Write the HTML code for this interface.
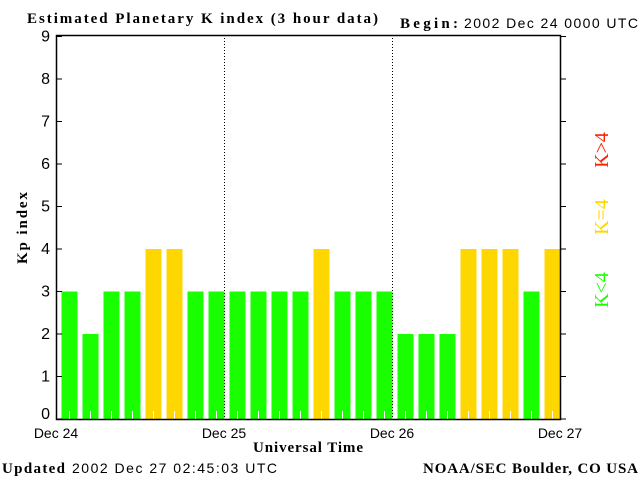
<!DOCTYPE html>
<html><head><meta charset="utf-8"><style>
body{margin:0;background:#fff;}
svg{display:block;}
.t{font-family:"Liberation Serif",serif;font-weight:bold;font-size:15px;}
.s{font-family:"Liberation Sans",sans-serif;font-size:14px;}
</style></head><body>
<svg id="c" width="640" height="480" xmlns="http://www.w3.org/2000/svg">
<text class="t" x="27" y="23" textLength="351" lengthAdjust="spacing">Estimated Planetary K index (3 hour data)</text>
<text class="t" x="400" y="28" textLength="58" lengthAdjust="spacing">Begin:</text>
<text class="s" x="464" y="28" textLength="174" lengthAdjust="spacing">2002 Dec 24 0000 UTC</text>
<text class="t" transform="translate(27,228) rotate(-90)" text-anchor="middle" textLength="72" lengthAdjust="spacing">Kp index</text>
<text class="t" x="308" y="452" text-anchor="middle" textLength="110" lengthAdjust="spacing">Universal Time</text>
<text class="t" x="2" y="473" textLength="63" lengthAdjust="spacing">Updated</text>
<text class="s" x="72" y="473" textLength="205" lengthAdjust="spacing">2002 Dec 27 02:45:03 UTC</text>
<text class="t" x="423" y="473" textLength="215" lengthAdjust="spacing">NOAA/SEC Boulder, CO USA</text>
<text class="t" transform="translate(608,290) rotate(-90)" text-anchor="middle" fill="#1aff00" style="font-size:20px;font-weight:normal">K&lt;4</text>
<text class="t" transform="translate(608,217) rotate(-90)" text-anchor="middle" fill="#ffd700" style="font-size:20px;font-weight:normal">K=4</text>
<text class="t" transform="translate(608,150) rotate(-90)" text-anchor="middle" fill="#ff2000" style="font-size:20px;font-weight:normal">K&gt;4</text>
<g id="plot"></g>
</svg>
<script>
const kp=[3,2,3,3,4,4,3,3, 3,3,3,3,4,3,3,3, 2,2,2,4,4,4,3,4];
const dayLabels=["Dec 24","Dec 25","Dec 26","Dec 27"];
const yTicks=[0,1,2,3,4,5,6,7,8,9];
const NS="http://www.w3.org/2000/svg";
const g=document.getElementById('plot');
const L=56,R=560,B=419,T=35;
const slot=(R-L)/kp.length;
function y(v){return B-42.5*v;}
function x(i){return L+slot*i;}
function mk(t,a){const e=document.createElementNS(NS,t);for(const k in a)e.setAttribute(k,a[k]);g.appendChild(e);return e;}
kp.forEach((v,i)=>{
 const col=v<4?'#1aff00':(v==4?'#ffd700':'#ff2000');
 const r=mk('rect',{x:x(i)+5.5,y:y(v),width:16,height:B-y(v),fill:col});
 
 
 const tk=mk('line',{x1:x(i)+13.5,x2:x(i)+13.5,y1:B-8,y2:B,stroke:'#fff','stroke-width':1});
 
 
});
for(let d=1;d<3;d++){
 const xx=x(d*8)+0.5;
 const l=mk('line',{x1:xx,x2:xx,y1:T,y2:B,stroke:'#000','stroke-dasharray':'1,2'});
 
 
}
const fr=mk('rect',{x:L+0.5,y:T+0.5,width:R-L,height:B-T,fill:'none',stroke:'#000','stroke-width':1.5});


yTicks.forEach(v=>{
 const yy=y(v);
 const a=mk('line',{x1:L,x2:L+6,y1:yy,y2:yy,stroke:'#000'});
 
 
 const b=mk('line',{x1:R,x2:R+6,y1:yy,y2:yy,stroke:'#000'});
 
 
 const t=mk('text',{x:L-6,y:Math.min(yy+5,419),'text-anchor':'end',class:'s',style:'font-size:16px'});
 t.textContent=v;
 
 
});
dayLabels.forEach((s,i)=>{
 const t=mk('text',{x:x(i*8),y:438,'text-anchor':'middle',class:'s'});
 t.textContent=s;
 
 
});
</script>
</body></html>
